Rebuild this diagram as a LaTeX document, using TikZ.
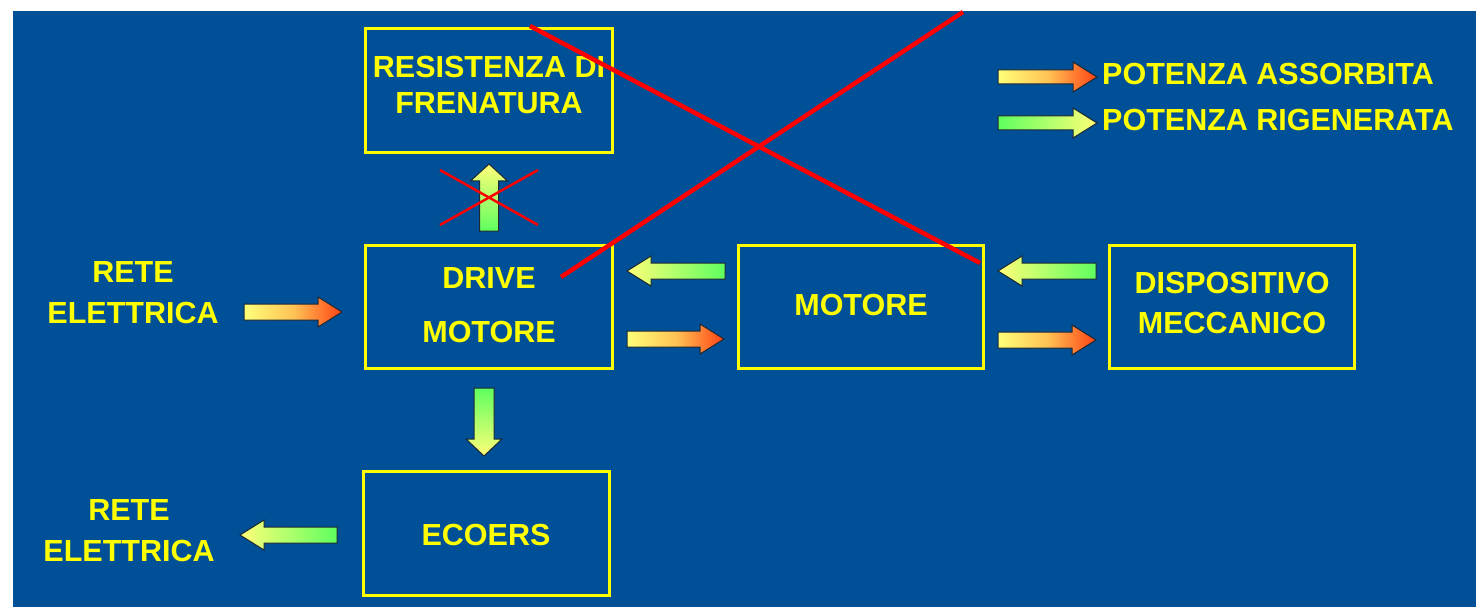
\documentclass[tikz,border=0pt]{standalone}
\usepackage{fontspec}
\setmainfont{Liberation Sans}
\usetikzlibrary{calc}

\definecolor{slide}{RGB}{0,80,152}
\definecolor{ylw}{RGB}{255,255,0}
\definecolor{paleY}{RGB}{255,255,120}
\definecolor{hot}{RGB}{255,66,20}
\definecolor{warm}{RGB}{255,195,85}
\definecolor{grn}{RGB}{95,255,95}
\definecolor{edgecol}{RGB}{30,40,50}
\definecolor{cross}{RGB}{255,0,0}

% Block arrow: style, tail, tip, shaft half-width, head half-width, head length
\newcommand\blockarrow[6]{%
  \coordinate (ba-b) at ($(#3)!#6!(#2)$);
  \draw[#1] ($(#2)!#4!90:(#3)$) -- ($(ba-b)!#4!90:(#3)$) -- ($(ba-b)!#5!90:(#3)$) -- (#3)
    -- ($(ba-b)!#5!-90:(#3)$) -- ($(ba-b)!#4!-90:(#3)$) -- ($(#2)!#4!-90:(#3)$) -- cycle;}

\begin{document}
\begin{tikzpicture}[x=1pt,y=-1pt,
  box/.style={draw=ylw, line width=3pt, inner sep=0pt, outer sep=0pt},
  lbl/.style={text=ylw, font=\fontsize{30.5}{#1}\selectfont\bfseries, align=center, inner sep=0pt},
  lbl/.default=36,
  pow/.style={draw=edgecol, line width=1pt, line join=miter},
  absorbR/.style={pow, left color=paleY, right color=hot, middle color=warm},
  regenR/.style={pow, left color=grn, right color=paleY},
  regenL/.style={pow, left color=paleY, right color=grn},
  regenUp/.style={pow, top color=paleY, bottom color=grn},
  regenDown/.style={pow, top color=grn, bottom color=paleY},
  strike/.style={draw=cross, line width=4.5pt},
  strikesmall/.style={draw=cross, line width=2.5pt}
]
\useasboundingbox (0,0) rectangle (1476,607);
\fill[white] (0,0) rectangle (1476,607);
\fill[slide] (13,11) rectangle (1476,607);

% blocks
\node[box, minimum width=247, minimum height=124] (resist) at (489,90.5) {};
\node[box, minimum width=247, minimum height=123] (drive)  at (489,307) {};
\node[box, minimum width=245, minimum height=123] (motor)  at (861,307) {};
\node[box, minimum width=245, minimum height=123] (mech)   at (1232,307) {};
\node[box, minimum width=246, minimum height=124] (ecoers) at (486.5,533.5) {};

% block texts
\node[lbl=36] (resistTxt) at (489,85) {RESISTENZA DI\\FRENATURA};
\node[lbl=54] (driveTxt)  at (489,305) {DRIVE\\MOTORE};
\node[lbl]    (motorTxt)  at (861,305) {MOTORE};
\node[lbl=40] (mechTxt)   at (1232,303) {DISPOSITIVO\\MECCANICO};
\node[lbl]    (ecoersTxt) at (486,535) {ECOERS};
\node[lbl=41] (gridIn)    at (133,292.5) {RETE\\ELETTRICA};
\node[lbl=41] (gridOut)   at (129,531) {RETE\\ELETTRICA};

% legend
\node[lbl, anchor=west] (legAbs) at (1102,74) {POTENZA ASSORBITA};
\node[lbl, anchor=west] (legReg) at (1102,120) {POTENZA RIGENERATA};

% arrow end points
\coordinate (a1t) at ($(drive.west)+(-121.5,5)$);
\coordinate (a1h) at ($(drive.west)+(-23.5,5)$);
\coordinate (a2t) at ($(motor.west)+(-13.5,-36)$);
\coordinate (a2h) at ($(drive.east)+(14.5,-36)$);
\coordinate (a3t) at ($(drive.east)+(14.5,32)$);
\coordinate (a3h) at ($(motor.west)+(-14.5,32)$);
\coordinate (a4t) at ($(mech.west)+(-13.5,-36)$);
\coordinate (a4h) at ($(motor.east)+(14.5,-36)$);
\coordinate (a5t) at ($(motor.east)+(14.5,33)$);
\coordinate (a5h) at ($(mech.west)+(-13.5,33)$);
\coordinate (a6t) at ($(drive.south)+(-5,19.5)$);
\coordinate (a6h) at ($(ecoers.north)+(-2.5,-15.5)$);
\coordinate (a7t) at ($(drive.north)+(0,-14.5)$);
\coordinate (a7h) at ($(resist.south)+(0,11.5)$);
\coordinate (a8t) at ($(ecoers.west)+(-26.5,1.5)$);
\coordinate (a8h) at ($(ecoers.west)+(-123.5,1.5)$);
\coordinate (l1h) at ($(legAbs.west)+(-5,3)$);
\coordinate (l1t) at ($(l1h)+(-99,0)$);
\coordinate (l2h) at ($(legReg.west)+(-5,3)$);
\coordinate (l2t) at ($(l2h)+(-99,0)$);

% power flow arrows
\blockarrow{absorbR}{a1t}{a1h}{8pt}{15pt}{24pt}
\blockarrow{regenL}{a2t}{a2h}{8pt}{15pt}{24pt}
\blockarrow{absorbR}{a3t}{a3h}{8pt}{15pt}{24pt}
\blockarrow{regenL}{a4t}{a4h}{8pt}{15pt}{24pt}
\blockarrow{absorbR}{a5t}{a5h}{8pt}{15pt}{24pt}
\blockarrow{regenDown}{a6t}{a6h}{10pt}{18pt}{17pt}
\blockarrow{regenUp}{a7t}{a7h}{9.5pt}{18.5pt}{17pt}
\blockarrow{regenL}{a8t}{a8h}{8pt}{15pt}{24pt}
\blockarrow{absorbR}{l1t}{l1h}{7pt}{15pt}{24pt}
\blockarrow{regenR}{l2t}{l2h}{7pt}{15pt}{24pt}

% small cross over the braking branch
\coordinate (xs) at ($(a7t)!0.5!(a7h)$);
\draw[strikesmall] ($(xs)+(-49,-27.5)$) -- ($(xs)+(49,27.5)$);
\draw[strikesmall] ($(xs)+(-49,27.5)$) -- ($(xs)+(49,-27.5)$);

% large cross
\coordinate (xa1) at ($(resist.north)+(41,-2.5)$);
\coordinate (xa2) at ($(motor.east)+(-3.5,-44)$);
\coordinate (xb1) at (963,12);
\coordinate (xb2) at ($(drive.center)+(72,-30)$);
\draw[strike] (xa1) -- (xa2);
\draw[strike] (xb1) -- (xb2);
\end{tikzpicture}
\end{document}
